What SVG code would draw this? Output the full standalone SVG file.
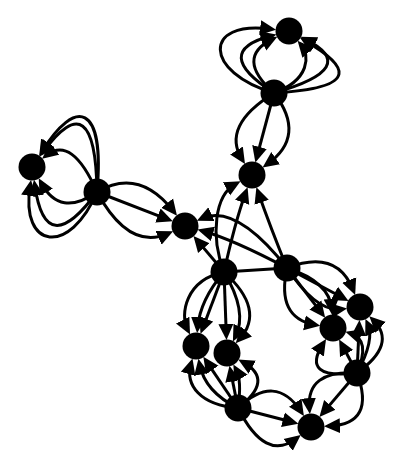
<svg xmlns="http://www.w3.org/2000/svg" width="412" height="470" viewBox="0 0 412 470">
<style>
.e{fill:none;stroke:#000;stroke-width:3;marker-end:url(#arr)}
.l{fill:none;stroke:#000;stroke-width:3}
.n{fill:#000}
</style>
<defs>
<marker id="arr" viewBox="0 0 16 16" refX="10.5" refY="8" markerWidth="16" markerHeight="16" markerUnits="userSpaceOnUse" orient="auto"><path d="M0,0.5 L16,8 L0,15.5 Z" fill="#000"/></marker>
</defs>
<rect width="412" height="470" fill="#fff"/>
<g id="edges">
<path class="e" d="M274,93 C203,72 203,20 270.6,29"/>
<path class="e" d="M274,93 Q210,52 271.1,35.8"/>
<path class="e" d="M274,93 Q234.5,58 272.4,39.2"/>
<path class="e" d="M274,93 C364,88 347,65 304.8,40.6"/>
<path class="e" d="M274,93 Q362.5,68 305.5,39.3"/>
<path class="e" d="M274,93 C310,80 310,55 301.2,44.9"/>
<path class="e" d="M274,93 Q221,126 242.1,159.4"/>
<path class="e" d="M274,93 L256.8,157.1"/>
<path class="e" d="M274,93 Q307,136 267.1,164.3"/>
<path class="e" d="M97,192 C105,102 75,98 42,151.4"/>
<path class="e" d="M97,192 Q95.5,80.5 43,152.1"/>
<path class="e" d="M97,192 Q72,135 46.4,155.4"/>
<path class="e" d="M97,192 C70,256 20,250 30.2,185.4"/>
<path class="e" d="M97,192 Q45.5,262 34.8,185.3"/>
<path class="e" d="M97,192 Q60,218 41.3,183"/>
<path class="e" d="M97,192 Q139,167 173.6,211.4"/>
<path class="e" d="M97,192 L167.7,219.3"/>
<path class="e" d="M97,192 Q129,251 168.1,233.5"/>
<path class="e" d="M224,272 C210,235 215,195 235.7,183.8"/>
<path class="e" d="M224,272 Q235,222 245.7,192.4"/>
<path class="e" d="M287,268 Q270,226 258.2,192.4"/>
<path class="e" d="M287,268 Q236,203 201.9,218.4"/>
<path class="e" d="M287,268 Q233,239.5 202.8,231"/>
<path class="e" d="M224,272 L197,240.1"/>
<path class="l" d="M224,272 L287,268"/>
<path class="e" d="M224,272 C185,280 180,315 187.5,329.5"/>
<path class="e" d="M224,272 Q200,300 197.6,327.6"/>
<path class="e" d="M224,272 L202.5,328.7"/>
<path class="e" d="M224,272 L226.3,334.5"/>
<path class="e" d="M224,272 Q248,312 235.4,336.5"/>
<path class="e" d="M224,272 Q266,310 239.4,339.3"/>
<path class="e" d="M238,408 C200,405 185,385 191,363.8"/>
<path class="e" d="M238,408 L206.4,361.3"/>
<path class="e" d="M238,408 Q205,392 199.5,364.1"/>
<path class="e" d="M238,408 L230.6,371.1"/>
<path class="e" d="M238,408 Q275,380 243.1,362.1"/>
<path class="e" d="M238,408 Q242,380 236,369.2"/>
<path class="e" d="M238,408 Q275.5,372.5 300.9,411.5"/>
<path class="e" d="M238,408 L293.1,422.3"/>
<path class="e" d="M238,408 Q265.5,462.5 296.4,438.4"/>
<path class="e" d="M357,373 Q306,370 309.4,408.6"/>
<path class="e" d="M357,373 L323,412.9"/>
<path class="e" d="M357,373 Q376,424 329.5,426.1"/>
<path class="e" d="M287,268 Q336.5,248.5 353.1,289.8"/>
<path class="e" d="M287,268 L343.7,298.3"/>
<path class="e" d="M287,268 Q316.5,312.5 341.6,309.3"/>
<path class="e" d="M287,268 L321.8,313.3"/>
<path class="e" d="M287,268 Q276,318 314.8,324.8"/>
<path class="e" d="M287,268 Q330,282 331.8,309.5"/>
<path class="e" d="M357,373 L359.2,325.5"/>
<path class="e" d="M357,373 Q397.5,344 373.2,320"/>
<path class="e" d="M357,373 Q375,340 367.7,323.9"/>
<path class="e" d="M357,373 Q300,380 323.1,343.6"/>
<path class="e" d="M357,373 L341.7,344.3"/>
<path class="e" d="M357,373 Q371,339.5 350.7,333.4"/>
</g>
<g id="n1"><circle class="n" cx="289" cy="31" r="13.5"/></g>
<g id="n2"><circle class="n" cx="274" cy="93" r="13.5"/></g>
<g id="n3"><circle class="n" cx="252" cy="175" r="13.5"/></g>
<g id="n4"><circle class="n" cx="32" cy="167" r="13.5"/></g>
<g id="n5"><circle class="n" cx="97" cy="192" r="13.5"/></g>
<g id="n6"><circle class="n" cx="185" cy="226" r="13.5"/></g>
<g id="n7"><circle class="n" cx="224" cy="272" r="13.5"/></g>
<g id="n8"><circle class="n" cx="287" cy="268" r="13.5"/></g>
<g id="n9"><circle class="n" cx="196" cy="346" r="13.5"/></g>
<g id="n10"><circle class="n" cx="227" cy="353" r="13.5"/></g>
<g id="n11"><circle class="n" cx="238" cy="408" r="13.5"/></g>
<g id="n12"><circle class="n" cx="311" cy="427" r="13.5"/></g>
<g id="n13"><circle class="n" cx="357" cy="373" r="13.5"/></g>
<g id="n14"><circle class="n" cx="333" cy="328" r="13.5"/></g>
<g id="n15"><circle class="n" cx="360" cy="307" r="13.5"/></g>
</svg>
